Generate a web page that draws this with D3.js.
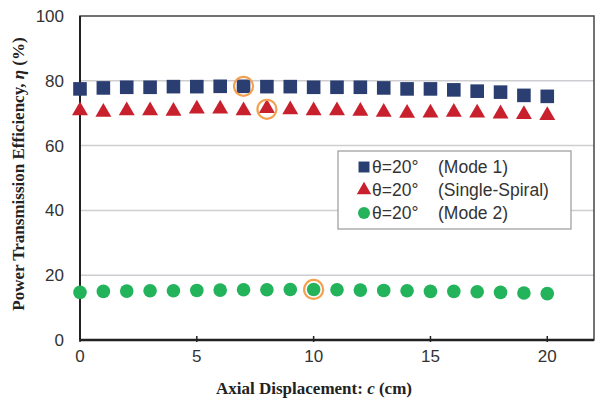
<!DOCTYPE html>
<html><head><meta charset="utf-8">
<script src="https://cdn.jsdelivr.net/npm/d3@7"></script>
<style>body{margin:0;background:#fff}svg{display:block}</style>
</head><body>
<svg id="c" width="595" height="403"></svg>
<script>
const xs = [0,1,2,3,4,5,6,7,8,9,10,11,12,13,14,15,16,17,18,19,20];
const mode1 = [77.5,77.8,78,78,78.2,78.2,78.3,78.3,78.2,78.2,78,78,78,77.8,77.5,77.5,77.2,76.8,76.5,75.5,75.2];
const single = [70.5,70,70.5,70.5,70.3,71,71,70.5,71.2,70.8,70.5,70.5,70.3,70,69.7,69.8,70,69.8,69.5,69.3,69];
const mode2 = [14.7,15,15.1,15.2,15.2,15.3,15.4,15.5,15.5,15.6,15.6,15.5,15.4,15.3,15.2,15,15,14.9,14.7,14.5,14.3];
const xTicks = [0,5,10,15,20];
const yTicks = [0,20,40,60,80,100];
const highlights = [{s:"mode1", x:7}, {s:"single", x:8}, {s:"mode2", x:10}];
const legendLabels = [["θ=20°","(Mode 1)"],["θ=20°","(Single-Spiral)"],["θ=20°","(Mode 2)"]];

const svg = d3.select("#c");
const L=80, R=594, T=16, B=340;
const x = d3.scaleLinear().domain([0,22]).range([L,R]);
const y = d3.scaleLinear().domain([0,100]).range([B,T]);
const SANS="Liberation Sans, Arial, sans-serif", SERIF="Liberation Serif, Times New Roman, serif";

// gridlines
svg.append("g").selectAll("line").data(yTicks.filter(d=>d>0&&d<100)).join("line")
  .attr("x1",L).attr("x2",R).attr("y1",d=>y(d)).attr("y2",d=>y(d))
  .attr("stroke","#cdcdd2").attr("stroke-width",1.5);

// frame
svg.append("rect").attr("x",L).attr("y",T).attr("width",R-L).attr("height",B-T)
  .attr("fill","none").attr("stroke","#444").attr("stroke-width",1.5);
svg.append("line").attr("x1",L).attr("x2",L).attr("y1",T).attr("y2",B).attr("stroke","#222").attr("stroke-width",2);
svg.append("line").attr("x1",L).attr("x2",R).attr("y1",B).attr("y2",B).attr("stroke","#222").attr("stroke-width",2.5);

// x ticks
svg.append("g").selectAll("line").data(xTicks).join("line")
  .attr("x1",d=>x(d)).attr("x2",d=>x(d)).attr("y1",B-4).attr("y2",B+2)
  .attr("stroke","#222").attr("stroke-width",1.5);
svg.append("g").selectAll("text").data(xTicks).join("text")
  .attr("x",d=>x(d)).attr("y",B+22).attr("text-anchor","middle")
  .attr("font-family",SANS).attr("font-size",17).attr("fill","#333")
  .text(d=>d);
svg.append("g").selectAll("text").data(yTicks).join("text")
  .attr("x",L-16).attr("y",d=>y(d)+6).attr("text-anchor","end")
  .attr("font-family",SANS).attr("font-size",17).attr("fill","#333")
  .text(d=>d);

// axis titles
const xt = svg.append("text").attr("x",(L+548)/2).attr("y",394).attr("text-anchor","middle")
  .attr("font-family",SERIF).attr("font-size",17).attr("font-weight","bold").attr("fill","#222");
xt.append("tspan").text("Axial Displacement: ");
xt.append("tspan").attr("font-style","italic").text("c");
xt.append("tspan").text(" (cm)");
const yt = svg.append("text").attr("transform","translate(24,174) rotate(-90)").attr("text-anchor","middle")
  .attr("font-family",SERIF).attr("font-size",17).attr("font-weight","bold").attr("fill","#222");
yt.append("tspan").text("Power Transmission Efficiency, ");
yt.append("tspan").attr("font-style","italic").text("η");
yt.append("tspan").text(" (%)");

const C1="#2b3e72", C2="#c9202e", C3="#22b35b", HC="#f4a050";
const sq = d3.symbol().type(d3.symbolSquare).size(185);
const tri = d3.symbol().type(d3.symbolTriangle).size(110);

svg.append("g").selectAll("path").data(xs).join("path")
  .attr("transform",(d,i)=>`translate(${x(d)},${y(mode1[i])})`).attr("d",sq).attr("fill",C1);
svg.append("g").selectAll("path").data(xs).join("path")
  .attr("transform",(d,i)=>`translate(${x(d)},${y(single[i])-1})`).attr("d",tri).attr("fill",C2);
svg.append("g").selectAll("circle").data(xs).join("circle")
  .attr("cx",d=>x(d)).attr("cy",(d,i)=>y(mode2[i])).attr("r",6.8).attr("fill",C3);

const seriesMap = {mode1, single, mode2};
svg.append("g").selectAll("circle").data(highlights).join("circle")
  .attr("cx",d=>x(d.x)).attr("cy",d=>y(seriesMap[d.s][xs.indexOf(d.x)]))
  .attr("r",9.5).attr("fill","none").attr("stroke",HC).attr("stroke-width",2.2);

// legend
const lg = svg.append("g");
lg.append("rect").attr("x",338).attr("y",151).attr("width",233).attr("height",78)
  .attr("fill","#fff").attr("stroke","#999").attr("stroke-width",1.2);
const rows=[167,190,213];
const syms=[d3.symbol().type(d3.symbolSquare).size(120), d3.symbol().type(d3.symbolTriangle).size(90), null];
const cols=[C1,C2,C3];
rows.forEach((ry,i)=>{
  if(syms[i]) lg.append("path").attr("transform",`translate(364,${ry})`).attr("d",syms[i]).attr("fill",cols[i]);
  else lg.append("circle").attr("cx",364).attr("cy",ry).attr("r",6).attr("fill",cols[i]);
  lg.append("text").attr("x",372).attr("y",ry+6).attr("font-family",SANS)
    .attr("font-size",17.5).attr("fill","#333").text(legendLabels[i][0]);
  lg.append("text").attr("x",438).attr("y",ry+6).attr("font-family",SANS)
    .attr("font-size",17.5).attr("fill","#333").text(legendLabels[i][1]);
});
</script>
</body></html>
